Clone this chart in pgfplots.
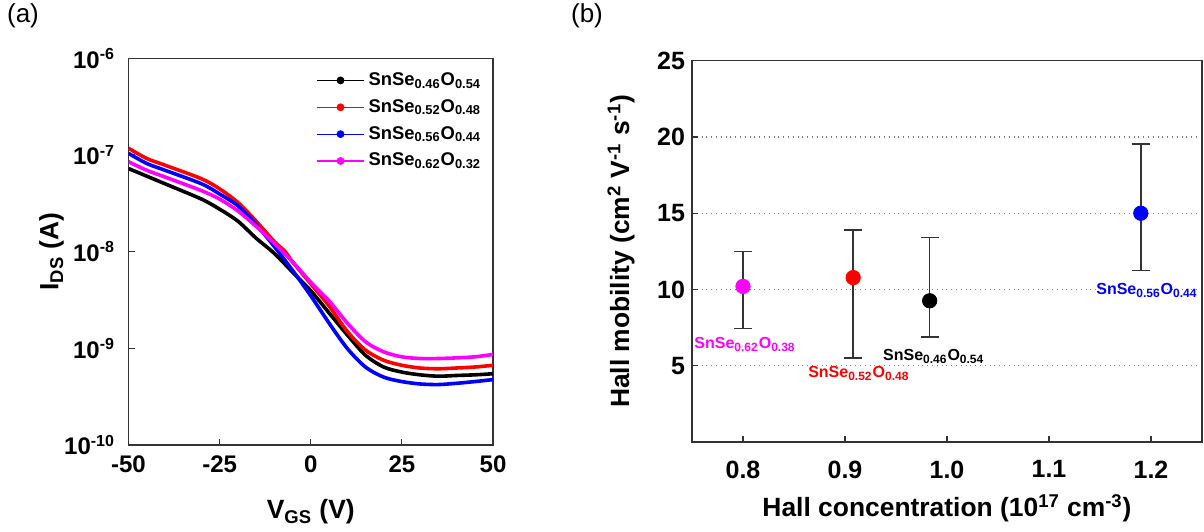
\documentclass[border=0pt]{standalone}
\usepackage{fontspec}
\setmainfont{Liberation Sans}
\usepackage{pgfplots}
\pgfplotsset{compat=1.18}
\definecolor{axgray}{HTML}{333333}
\definecolor{mag}{HTML}{FF00FF}
\definecolor{myred}{HTML}{FF0000}
\definecolor{myblue}{HTML}{0000FF}
\begin{document}
\begin{tikzpicture}
\path[use as bounding box] (0pt,0pt) rectangle (602pt,265.5pt);
\node[font=\fontsize{13}{15}\selectfont] at (11.5pt,257.5pt) {(a)};
\node[font=\fontsize{13}{15}\selectfont] at (293.5pt,257.5pt) {(b)};
\begin{axis}[
  at={(64.25pt,43pt)}, anchor=south west, scale only axis,
  width=182.25pt, height=193.35pt,
  ymode=log, xmin=-50, xmax=50, ymin=1e-10, ymax=1e-6,
  axis line style={axgray, line width=0.6pt},
  tick style={axgray, line width=0.6pt},
  tick align=inside, tick pos=left, major tick length=3pt,
  yminorticks=false,
  xtick={-50,-25,0,25,50}, xticklabels={-50,-25,0,25,50},
  ytick={1e-10,1e-9,1e-8,1e-7,1e-6},
  yticklabels={10\textsuperscript{-10},10\textsuperscript{-9},10\textsuperscript{-8},10\textsuperscript{-7},10\textsuperscript{-6}},
  ticklabel style={font=\fontsize{12}{14}\selectfont\bfseries},
  xticklabel style={yshift=-1.7pt},
  yticklabel style={xshift=-3.2pt},
  xlabel={V\textsubscript{GS} (V)}, ylabel={I\textsubscript{DS} (A)},
  label style={font=\fontsize{13.2}{15}\selectfont\bfseries},
  xlabel style={at={(axis description cs:0.5,-0.173)}, anchor=center},
  ylabel style={at={(axis description cs:-0.211,0.5)}, anchor=center},
  legend image code/.code={
    \draw[#1, line width=0.6pt] (0pt,0pt) -- (23.5pt,0pt);
    \fill[#1] (11.75pt,0pt) circle (1pt);
  },
  legend style={draw=none, fill=none, at={(rel axis cs:0.498,0.985)}, anchor=north west,
    font=\fontsize{9.2}{11}\selectfont\bfseries, row sep=1.5pt, cells={anchor=west}},
]
\addplot[black, line width=1.8pt, smooth] coordinates {
(-50,7.24e-8) (-40,5.04e-8) (-30,3.50e-8) (-25,2.75e-8) (-20,2.07e-8) (-15,1.38e-8)
(-10,9.6e-9) (-5,6.15e-9) (0,3.95e-9) (5,2.33e-9) (10,1.38e-9) (15,8.5e-10)
(20,6.41e-10) (25,5.68e-10) (30,5.32e-10) (35,5.15e-10) (40,5.24e-10) (45,5.32e-10) (50,5.46e-10)};
\addlegendentry{SnSe\textsubscript{0.46}O\textsubscript{0.54}}
\addplot[myred, line width=1.8pt, smooth] coordinates {
(-50,1.175e-7) (-45,9.2e-8) (-40,7.85e-8) (-30,5.68e-8) (-25,4.46e-8) (-20,3.23e-8)
(-15,2.07e-8) (-10,1.27e-8) (-7,1.0e-8) (-5,7.85e-9) (0,4.65e-9) (5,2.75e-9)
(10,1.50e-9) (15,9.6e-10) (20,7.53e-10) (25,6.68e-10) (30,6.26e-10) (35,6.15e-10)
(40,6.26e-10) (45,6.41e-10) (50,6.68e-10)};
\addlegendentry{SnSe\textsubscript{0.52}O\textsubscript{0.48}}
\addplot[myblue, line width=1.8pt, smooth] coordinates {
(-50,1.04e-7) (-45,8.17e-8) (-40,6.95e-8) (-30,5.04e-8) (-25,3.95e-8) (-20,2.98e-8)
(-15,1.91e-8) (-10,1.13e-8) (-5,6.41e-9) (0,3.50e-9) (5,1.83e-9) (10,1.0e-9)
(15,6.41e-10) (20,5.04e-10) (25,4.53e-10) (30,4.28e-10) (35,4.22e-10) (40,4.35e-10)
(45,4.53e-10) (50,4.75e-10)};
\addlegendentry{SnSe\textsubscript{0.56}O\textsubscript{0.44}}
\addplot[mag, line width=1.8pt, smooth] coordinates {
(-50,8.51e-8) (-45,6.95e-8) (-40,5.92e-8) (-30,4.28e-8) (-25,3.50e-8) (-20,2.64e-8)
(-15,1.83e-8) (-10,1.22e-8) (-5,7.85e-9) (0,4.83e-9) (5,3.10e-9) (10,1.83e-9)
(15,1.17e-9) (20,9.2e-10) (25,8.17e-10) (30,7.85e-10) (35,7.85e-10) (40,7.97e-10)
(45,8.17e-10) (50,8.65e-10)};
\addlegendentry{SnSe\textsubscript{0.62}O\textsubscript{0.32}}
\end{axis}
\begin{axis}[
  at={(346pt,44.5pt)}, anchor=south west, scale only axis,
  width=255pt, height=190.65pt,
  xmin=0.75, xmax=1.25, ymin=0, ymax=25,
  axis line style={axgray, line width=0.6pt},
  tick style={axgray, line width=0.6pt},
  tick align=inside, tick pos=left, major tick length=3pt,
  xtick={0.8,0.9,1.0,1.1,1.2}, xticklabels={0.8,0.9,1.0,1.1,1.2},
  ytick={5,10,15,20,25}, yticklabels={5,10,15,20,25},
  ymajorgrids, major grid style={dotted, gray, line width=0.6pt},
  ticklabel style={font=\fontsize{12.5}{14}\selectfont\bfseries},
  xticklabel style={yshift=-5.8pt},
  xlabel={Hall concentration (10\textsuperscript{17} cm\textsuperscript{-3})},
  ylabel={Hall mobility (cm\textsuperscript{2} V\textsuperscript{-1} s\textsuperscript{-1})},
  label style={font=\fontsize{13.2}{15}\selectfont\bfseries},
  xlabel style={at={(axis description cs:0.5,-0.173)}, anchor=center},
  ylabel style={at={(axis description cs:-0.139,0.5)}, anchor=center},
  error bars/y dir=both, error bars/y explicit,
  error bars/error bar style={axgray, line width=0.7pt},
  error bars/error mark options={rotate=90, mark size=4.5pt, axgray, line width=0.7pt},
]
\addplot[only marks, mark=*, mark size=3.6pt, mark options={fill=mag, draw=mag}] coordinates {(0.80,10.2) += (0,2.3) -= (0,2.74)};
\addplot[only marks, mark=*, mark size=3.6pt, mark options={fill=myred, draw=myred}] coordinates {(0.908,10.78) += (0,3.13) -= (0,5.27)};
\addplot[only marks, mark=*, mark size=3.6pt, mark options={fill=black, draw=black}] coordinates {(0.983,9.26) += (0,4.13) -= (0,2.37)};
\addplot[only marks, mark=*, mark size=3.6pt, mark options={fill=myblue, draw=myblue}] coordinates {(1.19,15.0) += (0,4.55) -= (0,3.74)};
\node[font=\fontsize{8}{9}\selectfont\bfseries, text=mag] at (axis cs:0.802,6.41) {SnSe\textsubscript{0.62}O\textsubscript{0.38}};
\node[font=\fontsize{8}{9}\selectfont\bfseries, text=myred] at (axis cs:0.9136,4.51) {SnSe\textsubscript{0.52}O\textsubscript{0.48}};
\node[font=\fontsize{8}{9}\selectfont\bfseries, text=black] at (axis cs:0.987,5.63) {SnSe\textsubscript{0.46}O\textsubscript{0.54}};
\node[font=\fontsize{8}{9}\selectfont\bfseries, text=myblue] at (axis cs:1.196,9.93) {SnSe\textsubscript{0.56}O\textsubscript{0.44}};
\end{axis}
\end{tikzpicture}
\end{document}
